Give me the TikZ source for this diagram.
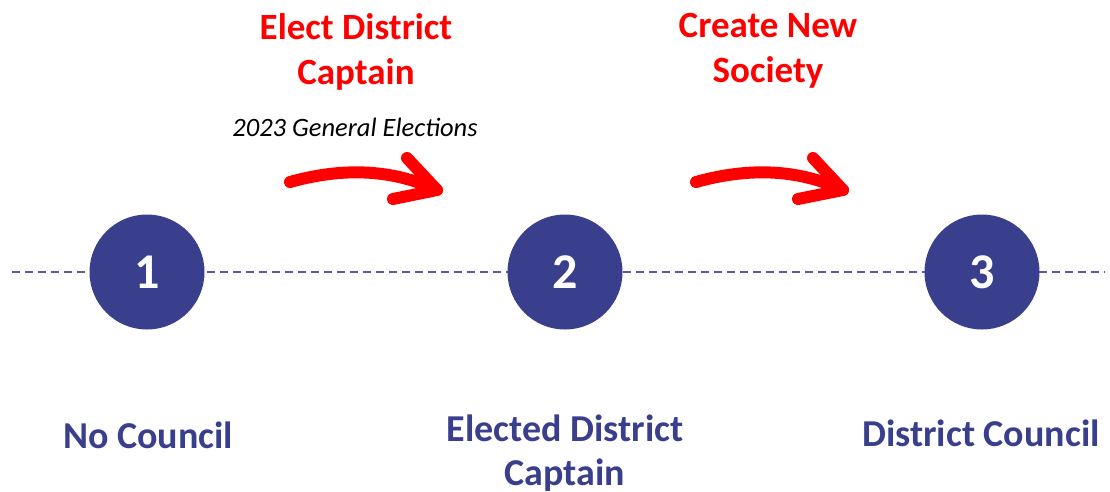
\documentclass[tikz,border=0pt]{standalone}
\usepackage{fontspec}
\setmainfont{Carlito}
\usepackage{tikz}
\usepackage{color}

\definecolor{stepblue}{HTML}{3A3F8D}
\definecolor{brushred}{HTML}{FF0000}

\tikzset{
	stage/.style={circle,fill=stepblue,minimum size=115pt,inner sep=0pt,
		text=white,font=\fontsize{50}{50}\selectfont\bfseries},
	caption/.style={text=stepblue,align=center,font=\fontsize{38}{44}\selectfont\bfseries},
	action/.style={text=brushred,align=center,font=\fontsize{37}{45}\selectfont\bfseries},
	brush/.style={draw=brushred,line width=12pt,line cap=round,line join=round}
}

\begin{document}
\begin{tikzpicture}[x=1pt,y=-1pt]
		\useasboundingbox (0,0) rectangle (1110,491);
		% timeline
		\coordinate (left) at (12,272);
		\coordinate (right) at (1105,272);
		\draw[stepblue!85,line width=1.8pt,dash pattern=on 8pt off 5pt] (left) -- (right);
		\node[stage] (one) at (147,272) {1};
		\node[stage] (two) at (565,272) {2};
		\node[stage] (three) at (982,272) {3};
		% labels under the stages
		\node[caption] (nocouncil) at (148,435) {No Council};
		\node[caption,anchor=north] (captain) at (565,411) {Elected District\\Captain};
		\node[caption] (council) at (981,433) {District Council};
		% what happens between them
		\node[action,anchor=north] (elect) at (356,10) {Elect District\\Captain};
		\node[action,anchor=north] (society) at (768,10) {Create New\\Society};
		\node[font=\fontsize{26.5}{26.5}\selectfont\itshape] (elections) at (355,127) {2023 General Elections};
		% brush arrows
		\coordinate (a1) at (290,182);
		\coordinate (b1) at (437,190);
		\draw[brush] (a1) .. controls (340,168) and (390,168) .. (b1);
		\draw[brush] (407,158) -- (b1) -- (393,199);
		\coordinate (a2) at (696,182);
		\coordinate (b2) at (843,190);
		\draw[brush] (a2) .. controls (746,168) and (796,168) .. (b2);
		\draw[brush] (813,158) -- (b2) -- (798,199);
	\end{tikzpicture}
\end{document}
